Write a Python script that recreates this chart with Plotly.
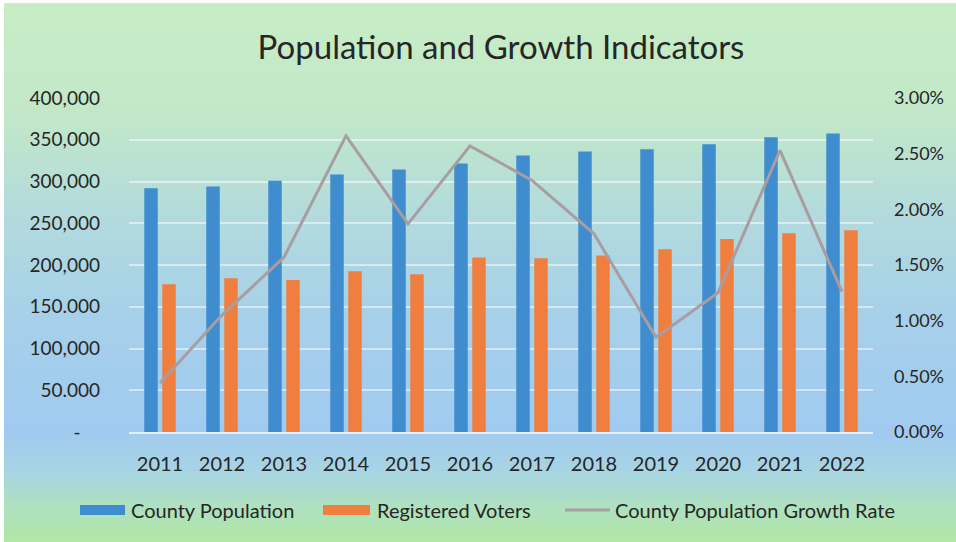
import plotly.graph_objects as go

years = ["2011", "2012", "2013", "2014", "2015", "2016", "2017", "2018", "2019", "2020", "2021", "2022"]
county_population = [292000, 294000, 301000, 308500, 314500, 321500, 331000, 336000, 338500, 344500, 353000, 357500]
registered_voters = [177000, 184000, 182000, 192500, 189000, 209000, 208000, 211500, 219000, 231000, 238000, 241500]
growth_rate = [0.0044, 0.0105, 0.0157, 0.0266, 0.0187, 0.0257, 0.0226, 0.0178, 0.0085, 0.0125, 0.0253, 0.0126]

left_tickvals = [0, 50000, 100000, 150000, 200000, 250000, 300000, 350000, 400000]
left_ticktext = ["-\u00a0\u00a0\u00a0\u00a0", "50.000", "100,000", "150.000", "200,000", "250,000", "300,000", "350,000", "400,000"]

W, H = 956, 542
L, R, T, B = 129, 83, 98, 110
PW, PH = W - L - R, H - T - B

FONT = "Lato"
TXT = "#262626"

def px_x(x):
    return (x - L) / PW

def px_y(y):
    return (H - B - y) / PH

fig = go.Figure()
fig.add_trace(go.Bar(x=years, y=county_population, name="County Population",
                     marker=dict(color="#3f8dcf", line=dict(width=0)), showlegend=False))
fig.add_trace(go.Bar(x=years, y=registered_voters, name="Registered Voters",
                     marker=dict(color="#f07e3e", line=dict(width=0)), showlegend=False))
fig.add_trace(go.Scatter(x=years, y=growth_rate, name="County Population Growth Rate",
                         mode="lines", line=dict(color="#a89da0", width=3),
                         yaxis="y2", showlegend=False))

# background gradient (figure pixels: y, colour)
stops = [(0, (200, 237, 198)), (110, (194, 232, 200)), (220, (178, 218, 222)),
         (320, (166, 208, 234)), (430, (160, 202, 240)), (470, (166, 212, 228)),
         (505, (174, 224, 192)), (542, (178, 230, 164))]

def col_at(y):
    for (y0, c0), (y1, c1) in zip(stops[:-1], stops[1:]):
        if y0 <= y <= y1:
            t = (y - y0) / (y1 - y0)
            return "rgb(%d,%d,%d)" % tuple(round(a + (b - a) * t) for a, b in zip(c0, c1))
    return "rgb(%d,%d,%d)" % stops[-1][1]

shapes = []
step = 6
for y in range(3, H, step):
    shapes.append(dict(type="rect", xref="paper", yref="paper", layer="below",
                       x0=px_x(4), x1=px_x(W + 2), y0=px_y(min(y + step + 1, H + 2)), y1=px_y(y),
                       fillcolor=col_at(y + step / 2), line=dict(width=0)))

# legend
leg_y = 510
legend_items = [
    ("rect", "#3f8dcf", 80, 125, 129, "County Population"),
    ("rect", "#f07e3e", 323, 370, 375, "Registered Voters"),
    ("line", "#a89da0", 565, 610, 613, "County Population Growth Rate"),
]
annotations = []
for kind, c, x0, x1, tx, label in legend_items:
    if kind == "rect":
        shapes.append(dict(type="rect", xref="paper", yref="paper", x0=px_x(x0), x1=px_x(x1),
                           y0=px_y(leg_y + 5), y1=px_y(leg_y - 5), fillcolor=c, line=dict(width=0)))
    else:
        shapes.append(dict(type="line", xref="paper", yref="paper", x0=px_x(x0), x1=px_x(x1),
                           y0=px_y(leg_y), y1=px_y(leg_y), line=dict(color=c, width=3)))
    annotations.append(dict(text=label, xref="paper", yref="paper", x=px_x(tx), y=px_y(leg_y),
                            xanchor="left", yanchor="middle", showarrow=False,
                            font=dict(family=FONT, size=20, color=TXT)))

fig.update_layout(
    width=W, height=H,
    margin=dict(l=L, r=R, t=T, b=B, pad=0),
    paper_bgcolor="white", plot_bgcolor="rgba(0,0,0,0)",
    barmode="group", bargap=0.42, bargroupgap=0.25,
    title=dict(text="Population and Growth Indicators", x=0.5, xref="paper", xanchor="center",
               y=1 - 47 / H, yanchor="middle", yref="container",
               font=dict(family=FONT, size=33, color=TXT)),
    font=dict(family=FONT, color=TXT),
    xaxis=dict(type="category", showgrid=False, showline=True, linecolor="rgba(255,255,255,0.7)",
               linewidth=2, ticks="", ticklabelstandoff=13,
               tickfont=dict(family=FONT, size=20, color=TXT)),
    yaxis=dict(range=[0, 400000], tickvals=left_tickvals, ticktext=left_ticktext,
               showgrid=True, gridcolor="rgba(255,255,255,0.5)", gridwidth=2,
               zeroline=False, showline=False, ticks="", ticklabelstandoff=28,
               tickfont=dict(family=FONT, size=19, color=TXT)),
    yaxis2=dict(range=[0, 0.03], dtick=0.005, tickformat=".2%", overlaying="y", side="right",
                showgrid=False, zeroline=False, showline=False, ticks="", ticklabelstandoff=20,
                tickfont=dict(family=FONT, size=18, color=TXT)),
    shapes=shapes, annotations=annotations, showlegend=False,
)

fig.write_html("out.html", config={"displayModeBar": False},
               post_script="document.body.style.margin='0';document.body.style.padding='0';")
